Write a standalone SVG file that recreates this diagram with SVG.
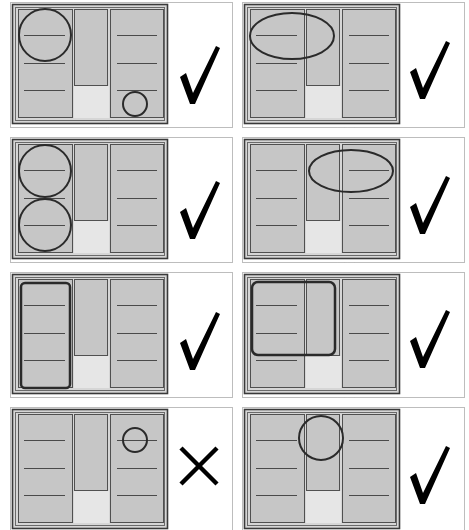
<svg xmlns="http://www.w3.org/2000/svg" xmlns:xlink="http://www.w3.org/1999/xlink" width="469" height="530" viewBox="0 0 469 530">
<style>
.panel{fill:#ffffff;stroke:#7a7a7a;stroke-width:1;stroke-dasharray:1 1}
.frame{fill:#d6d6d6;stroke:#3a3a3a;stroke-width:1.6}
.inner{fill:none;stroke:#6a6a6a;stroke-width:1}
.col{fill:#c6c6c6;stroke:#505050;stroke-width:1}
.light{fill:#e6e6e6;stroke:none}
.ln{stroke:#4a4a4a;stroke-width:1}
.mark{fill:none;stroke:#2a2a2a;stroke-width:2}
.check{fill:#000000}
.cross{stroke:#000000;stroke-width:4.5;fill:none}
</style>
<defs>
<g id="base">
<rect class="panel" x="10.5" y="2.5" width="222" height="125"/>
<rect class="frame" x="12.5" y="4.5" width="155" height="119"/>
<rect class="inner" x="15.5" y="7.5" width="149" height="113"/>
<rect class="light" x="74" y="86" width="35" height="32"/>
<rect class="col" x="18.5" y="9.5" width="54" height="108"/>
<rect class="col" x="74.5" y="9.5" width="33" height="76"/>
<rect class="col" x="110.5" y="9.5" width="53" height="108"/>
<line class="ln" x1="24" y1="35.5" x2="65" y2="35.5"/>
<line class="ln" x1="24" y1="63.5" x2="65" y2="63.5"/>
<line class="ln" x1="24" y1="90.5" x2="65" y2="90.5"/>
<line class="ln" x1="117" y1="35.5" x2="157" y2="35.5"/>
<line class="ln" x1="117" y1="63.5" x2="157" y2="63.5"/>
<line class="ln" x1="117" y1="90.5" x2="157" y2="90.5"/>
</g>
<path id="chk" class="check" d="M180,77 L186,73 L193,93 L216,46 L220,48 L195,104 L190,104 Z"/>
</defs>
<g id="panel-1">
<use xlink:href="#base"/>
<circle class="mark" cx="45" cy="35" r="26"/>
<circle class="mark" cx="135" cy="104" r="12"/>
<use xlink:href="#chk"/>
</g>
<g id="panel-2">
<use xlink:href="#base" transform="translate(232,0)"/>
<ellipse class="mark" cx="292" cy="36" rx="42" ry="23"/>
<use xlink:href="#chk" transform="translate(230,-5)"/>
</g>
<g id="panel-3">
<use xlink:href="#base" transform="translate(0,135)"/>
<circle class="mark" cx="45" cy="171" r="26"/>
<circle class="mark" cx="45" cy="225" r="26"/>
<use xlink:href="#chk" transform="translate(0,135)"/>
</g>
<g id="panel-4">
<use xlink:href="#base" transform="translate(232,135)"/>
<ellipse class="mark" cx="351" cy="171" rx="42" ry="21"/>
<use xlink:href="#chk" transform="translate(230,130)"/>
</g>
<g id="panel-5">
<use xlink:href="#base" transform="translate(0,270)"/>
<rect class="mark" x="21" y="283" width="49" height="105" rx="4" style="stroke-width:2.5"/>
<use xlink:href="#chk" transform="translate(0,266)"/>
</g>
<g id="panel-6">
<use xlink:href="#base" transform="translate(232,270)"/>
<rect class="mark" x="252" y="282" width="83" height="73" rx="6" style="stroke-width:2.5"/>
<use xlink:href="#chk" transform="translate(230,264)"/>
</g>
<g id="panel-7">
<use xlink:href="#base" transform="translate(0,405)"/>
<circle class="mark" cx="135" cy="440" r="12"/>
<line class="cross" x1="181" y1="448" x2="217" y2="484"/>
<line class="cross" x1="217" y1="448" x2="181" y2="484"/>
</g>
<g id="panel-8">
<use xlink:href="#base" transform="translate(232,405)"/>
<circle class="mark" cx="321" cy="438" r="22"/>
<use xlink:href="#chk" transform="translate(230,400)"/>
</g>
<g id="connectors"/>
</svg>
